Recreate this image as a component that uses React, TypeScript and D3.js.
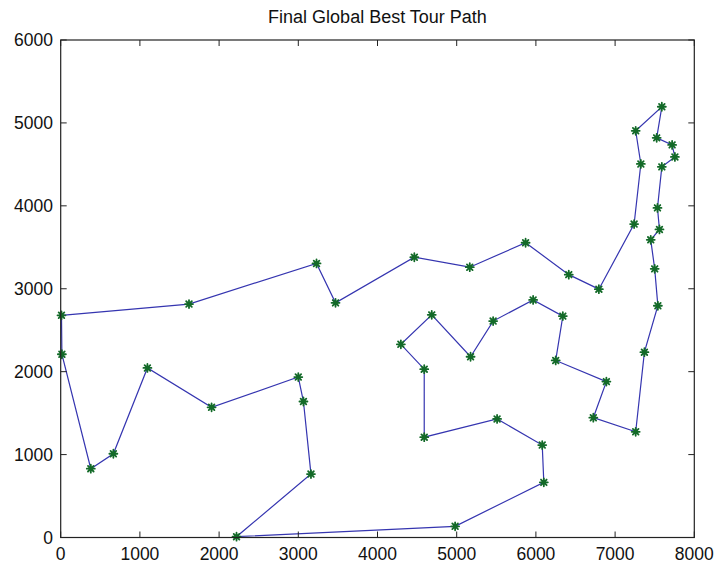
import React from 'react';
import * as d3 from 'd3';

// tour order (closed loop back to the first city)
const tourX = [10, 15, 380, 665, 1095, 1905, 3000, 3065, 3160, 2220, 4980, 6100, 6080, 5510, 4590, 4590, 4295, 4685, 5175, 5460, 5965, 6340, 6250, 6890, 6725, 7260, 7370, 7540, 7500, 7450, 7560, 7535, 7590, 7755, 7720, 7525, 7590, 7260, 7325, 7240, 6795, 6415, 5870, 5165, 4465, 3470, 3230, 1620];
const tourY = [2680, 2210, 830, 1010, 2045, 1570, 1935, 1640, 765, 10, 135, 665, 1115, 1430, 1210, 2030, 2330, 2685, 2180, 2610, 2865, 2670, 2135, 1880, 1445, 1275, 2235, 2795, 3240, 3590, 3715, 3975, 4470, 4590, 4735, 4820, 5195, 4905, 4505, 3780, 2995, 3170, 3555, 3260, 3380, 2830, 3305, 2815];

const xTicks = [0, 1000, 2000, 3000, 4000, 5000, 6000, 7000, 8000];
const yTicks = [0, 1000, 2000, 3000, 4000, 5000, 6000];
const title = 'Final Global Best Tour Path';

const W = 714, H = 565;
const left = 60.7, right = 694.3, top = 40, bottom = 537.5;
const font = '"Liberation Sans", Arial, sans-serif';
const tickLen = 6;

const App = () => {
  const x = d3.scaleLinear().domain([0, 8000]).range([left, right]);
  const y = d3.scaleLinear().domain([0, 6000]).range([bottom, top]);

  const pts: [number, number][] = tourX.map((v, i) => [x(v), y(tourY[i])]);
  const path = d3.line()(pts.concat([pts[0]])) || '';

  // MATLAB-ish '*' marker
  const r = 4;
  const star = d3.range(4).map(k => {
    const a = (k * Math.PI) / 4;
    const dx = r * Math.cos(a), dy = r * Math.sin(a);
    return `M${-dx},${-dy}L${dx},${dy}`;
  }).join('');

  return (
    <svg width={W} height={H} style={{ position: 'absolute', left: 0, top: 0, background: '#fff' }}
      fontFamily={font}>
      <rect x={0} y={0} width={W} height={H} fill="#fff" />
      <text x={(left + right) / 2} y={23} textAnchor="middle" fontSize={18} fill="#111">{title}</text>

      <path d={path} fill="none" stroke="#3535b0" strokeWidth={1.2} />
      {pts.map(([px, py], i) => (
        <g key={i} transform={`translate(${px},${py})`}>
          <circle r={2} fill="#136a28" />
          <path d={star} stroke="#136a28" strokeWidth={1.8} strokeLinecap="round" />
        </g>
      ))}

      {/* box */}
      <rect x={left} y={top} width={right - left} height={bottom - top} fill="none" stroke="#222" strokeWidth={1.2} />

      {xTicks.map(t => (
        <g key={'x' + t}>
          <line x1={x(t)} x2={x(t)} y1={bottom} y2={bottom - tickLen} stroke="#222" />
          <line x1={x(t)} x2={x(t)} y1={top} y2={top + tickLen} stroke="#222" />
          <text x={x(t)} y={560} textAnchor="middle" fontSize={17.5} fill="#111">{t}</text>
        </g>
      ))}
      {yTicks.map(t => (
        <g key={'y' + t}>
          <line x1={left} x2={left + tickLen} y1={y(t)} y2={y(t)} stroke="#222" />
          <line x1={right} x2={right - tickLen} y1={y(t)} y2={y(t)} stroke="#222" />
          <text x={53} y={y(t)} dy="0.35em" textAnchor="end" fontSize={17.5} fill="#111">{t}</text>
        </g>
      ))}
    </svg>
  );
};

export default App;
